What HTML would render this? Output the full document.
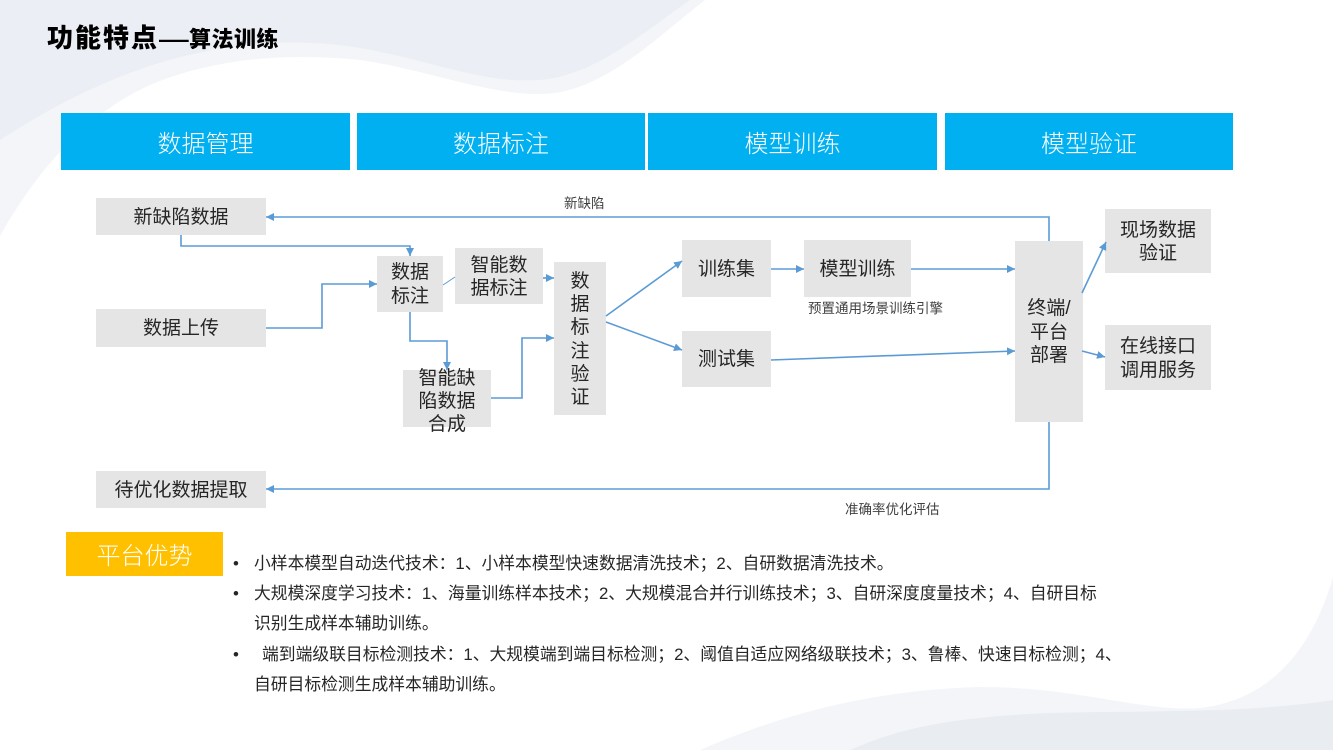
<!DOCTYPE html>
<html><head><meta charset="utf-8">
<style>
html,body{margin:0;padding:0;}
body{width:1333px;height:750px;position:relative;overflow:hidden;background:#fff;font-family:"Liberation Sans","Noto Sans CJK SC",sans-serif;}
.abs{position:absolute;}
.hdr{position:absolute;top:113px;height:57px;background:#00b0f0;color:#fff;font-size:24px;font-weight:300;display:flex;align-items:center;justify-content:center;}
.b{position:absolute;background:#e5e5e5;display:flex;align-items:center;justify-content:center;text-align:center;color:#262626;font-size:19px;line-height:23.5px;white-space:nowrap;padding-top:2px;box-sizing:border-box;}
.lbl{position:absolute;font-size:13.5px;color:#404040;line-height:16px;white-space:nowrap;}
.bl{position:absolute;font-size:16.8px;color:#262626;line-height:20px;white-space:nowrap;}
</style></head><body>

<svg class="abs" style="left:0;top:0" width="1333" height="750">
  <path d="M0,0 H705 C660,35 610,85 555,93 C500,100 430,70 360,60 C280,52 210,60 150,85 C90,112 40,165 0,236 Z" fill="#f3f5f9"/>
  <path d="M0,0 H690 C640,35 595,75 540,80 C480,85 420,55 340,45 C240,35 130,55 0,140 Z" fill="#ebeef4"/>
  <path d="M700,750 C780,715 870,690 980,687 C1080,687 1140,712 1200,708 C1270,700 1312,650 1333,577 V750 Z" fill="#f3f5f9"/>
  <path d="M850,750 C900,728 950,717 1050,713 C1150,710 1240,714 1333,700 V750 Z" fill="#e9edf2"/>
</svg>

<div class="abs" style="left:47px;top:22px;color:#000;font-weight:900;white-space:nowrap;line-height:32px;">
  <span style="font-size:26px;letter-spacing:2px;">功能特点</span><span style="font-size:22px;display:inline-block;transform:scaleX(1.35);transform-origin:left;margin-right:8px;">—</span><span style="font-size:22px;letter-spacing:0.5px;">算法训练</span>
</div>

<div class="hdr" style="left:61px;width:289px;">数据管理</div>
<div class="hdr" style="left:357px;width:288px;">数据标注</div>
<div class="hdr" style="left:648px;width:289px;">模型训练</div>
<div class="hdr" style="left:945px;width:288px;">模型验证</div>

<div class="b" style="left:96px;top:198px;width:170px;height:37px;">新缺陷数据</div>
<div class="b" style="left:96px;top:309px;width:170px;height:38px;">数据上传</div>
<div class="b" style="left:377px;top:256px;width:66px;height:56px;line-height:24px;">数据<br>标注</div>
<div class="b" style="left:455px;top:248px;width:88px;height:56px;">智能数<br>据标注</div>
<div class="b" style="left:403px;top:370px;width:88px;height:57px;line-height:23px;align-items:flex-start;padding-top:0;"><div style="margin-top:-3px;">智能缺<br>陷数据<br>合成</div></div>
<div class="b" style="left:554px;top:262px;width:52px;height:153px;line-height:23.3px;">数<br>据<br>标<br>注<br>验<br>证</div>
<div class="b" style="left:682px;top:240px;width:89px;height:57px;">训练集</div>
<div class="b" style="left:804px;top:240px;width:107px;height:57px;">模型训练</div>
<div class="b" style="left:682px;top:331px;width:89px;height:56px;">测试集</div>
<div class="b" style="left:1015px;top:241px;width:68px;height:181px;">终端/<br>平台<br>部署</div>
<div class="b" style="left:1105px;top:209px;width:106px;height:64px;">现场数据<br>验证</div>
<div class="b" style="left:1105px;top:325px;width:106px;height:65px;">在线接口<br>调用服务</div>
<div class="b" style="left:96px;top:471px;width:170px;height:37px;">待优化数据提取</div>

<div class="lbl" style="left:564px;top:196px;">新缺陷</div>
<div class="lbl" style="left:808px;top:301px;">预置通用场景训练引擎</div>
<div class="lbl" style="left:845px;top:502px;">准确率优化评估</div>

<svg class="abs" style="left:0;top:0" width="1333" height="750">
  <defs>
    <marker id="a" viewBox="0 0 10 10" refX="10" refY="5" markerWidth="8" markerHeight="8" markerUnits="userSpaceOnUse" orient="auto">
      <path d="M0,0 L10,5 L0,10 z" fill="#5b9bd5"/>
    </marker>
  </defs>
  <g fill="none" stroke="#5b9bd5" stroke-width="1.6">
    <polyline points="1049,241 1049,217 266,217" marker-end="url(#a)"/>
    <polyline points="181,235 181,246 410,246 410,256" marker-end="url(#a)"/>
    <polyline points="266,328 322,328 322,284 377,284" marker-end="url(#a)"/>
    <line x1="443" y1="285" x2="455" y2="277" stroke-width="1"/>
    <line x1="543" y1="278" x2="554" y2="278" marker-end="url(#a)"/>
    <polyline points="410,312 410,341 447,341 447,370" marker-end="url(#a)"/>
    <polyline points="491,398 522,398 522,338 554,338" marker-end="url(#a)"/>
    <line x1="606" y1="316" x2="682" y2="261" marker-end="url(#a)"/>
    <line x1="606" y1="322" x2="682" y2="350" marker-end="url(#a)"/>
    <line x1="771" y1="269" x2="804" y2="269" marker-end="url(#a)"/>
    <line x1="911" y1="269" x2="1015" y2="269" marker-end="url(#a)"/>
    <line x1="771" y1="360" x2="1015" y2="351" marker-end="url(#a)"/>
    <line x1="1082" y1="293" x2="1106" y2="242" marker-end="url(#a)"/>
    <line x1="1082" y1="351" x2="1105" y2="357" marker-end="url(#a)"/>
    <polyline points="1049,422 1049,489 266,489" marker-end="url(#a)"/>
  </g>
</svg>

<div class="abs" style="left:66px;top:532px;width:157px;height:44px;background:#ffc000;color:#fff;font-size:24px;font-weight:300;display:flex;align-items:center;justify-content:center;padding-bottom:2px;box-sizing:border-box;">平台优势</div>

<div class="bl" style="left:233px;top:554px;">•</div>
<div class="bl" style="left:254px;top:554px;">小样本模型自动迭代技术：1、小样本模型快速数据清洗技术；2、自研数据清洗技术。</div>
<div class="bl" style="left:233px;top:584px;">•</div>
<div class="bl" style="left:254px;top:584px;">大规模深度学习技术：1、海量训练样本技术；2、大规模混合并行训练技术；3、自研深度度量技术；4、自研目标</div>
<div class="bl" style="left:254px;top:614px;">识别生成样本辅助训练。</div>
<div class="bl" style="left:233px;top:645px;">•</div>
<div class="bl" style="left:262px;top:645px;">端到端级联目标检测技术：1、大规模端到端目标检测；2、阈值自适应网络级联技术；3、鲁棒、快速目标检测；4、</div>
<div class="bl" style="left:254px;top:675px;">自研目标检测生成样本辅助训练。</div>

</body></html>
